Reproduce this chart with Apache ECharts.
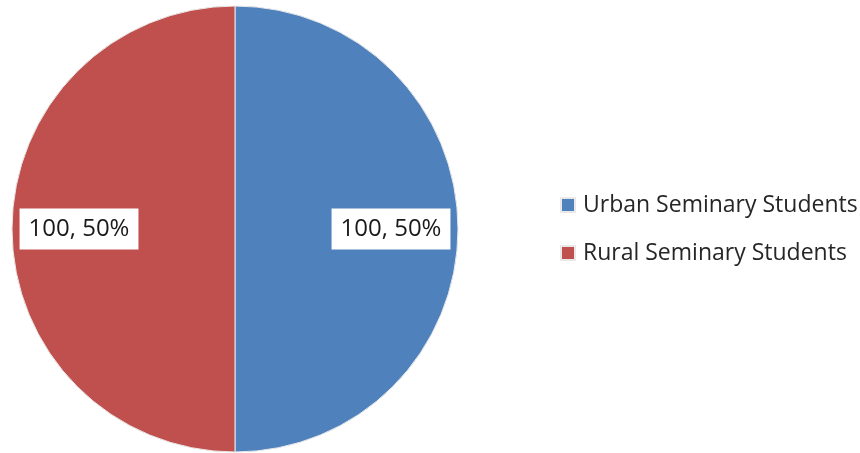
<!DOCTYPE html>
<html>
<head>
<meta charset="utf-8">
<script src="https://cdn.jsdelivr.net/npm/echarts@6/dist/echarts.min.js"></script>
<style>html,body{margin:0;padding:0;background:#fff}#c{width:860px;height:453px}</style>
</head>
<body>
<div id="c"></div>
<script>
var categories = ['Urban Seminary Students', 'Rural Seminary Students'];
var values = [100, 100];
var colors = ['#4F81BD', '#C0504D'];

var total = values.reduce(function (a, b) { return a + b; }, 0);
var data = categories.map(function (n, i) { return { name: n, value: values[i] }; });

var chart = echarts.init(document.getElementById('c'), null, { renderer: 'canvas' });
chart.setOption({
  animation: false,
  color: colors,
  legend: {
    orient: 'vertical',
    left: 560,
    top: 193,
    padding: 0,
    itemWidth: 14,
    itemHeight: 14,
    itemGap: 24,
    icon: 'rect',
    textStyle: { fontFamily: 'Open Sans', fontSize: 23, lineHeight: 24, color: '#262626', padding: [0, 0, 0, 3] },
    data: categories
  },
  series: [
    {
      type: 'pie',
      center: [235, 229],
      radius: [0, 223],
      startAngle: 90,
      clockwise: true,
      label: { show: false },
      labelLine: { show: false },
      itemStyle: { borderColor: '#e8e8e8', borderWidth: 1 },
      emphasis: { disabled: true },
      data: data
    },
    {
      type: 'pie',
      center: [235, 229],
      radius: [83, 223],
      startAngle: 90,
      clockwise: true,
      silent: true,
      itemStyle: { color: 'rgba(0,0,0,0)', borderWidth: 0 },
      labelLine: { show: false },
      label: {
        show: true,
        position: 'inside',
        formatter: function (p) { return p.value + ', ' + Math.round(p.value / total * 100) + '%'; },
        fontFamily: 'Open Sans',
        fontSize: 24,
        lineHeight: 27,
        color: '#1a1a1a',
        backgroundColor: '#fff',
        padding: [7, 9, 7, 9]
      },
      emphasis: { disabled: true },
      data: data
    }
  ]
});
</script>
</body>
</html>
